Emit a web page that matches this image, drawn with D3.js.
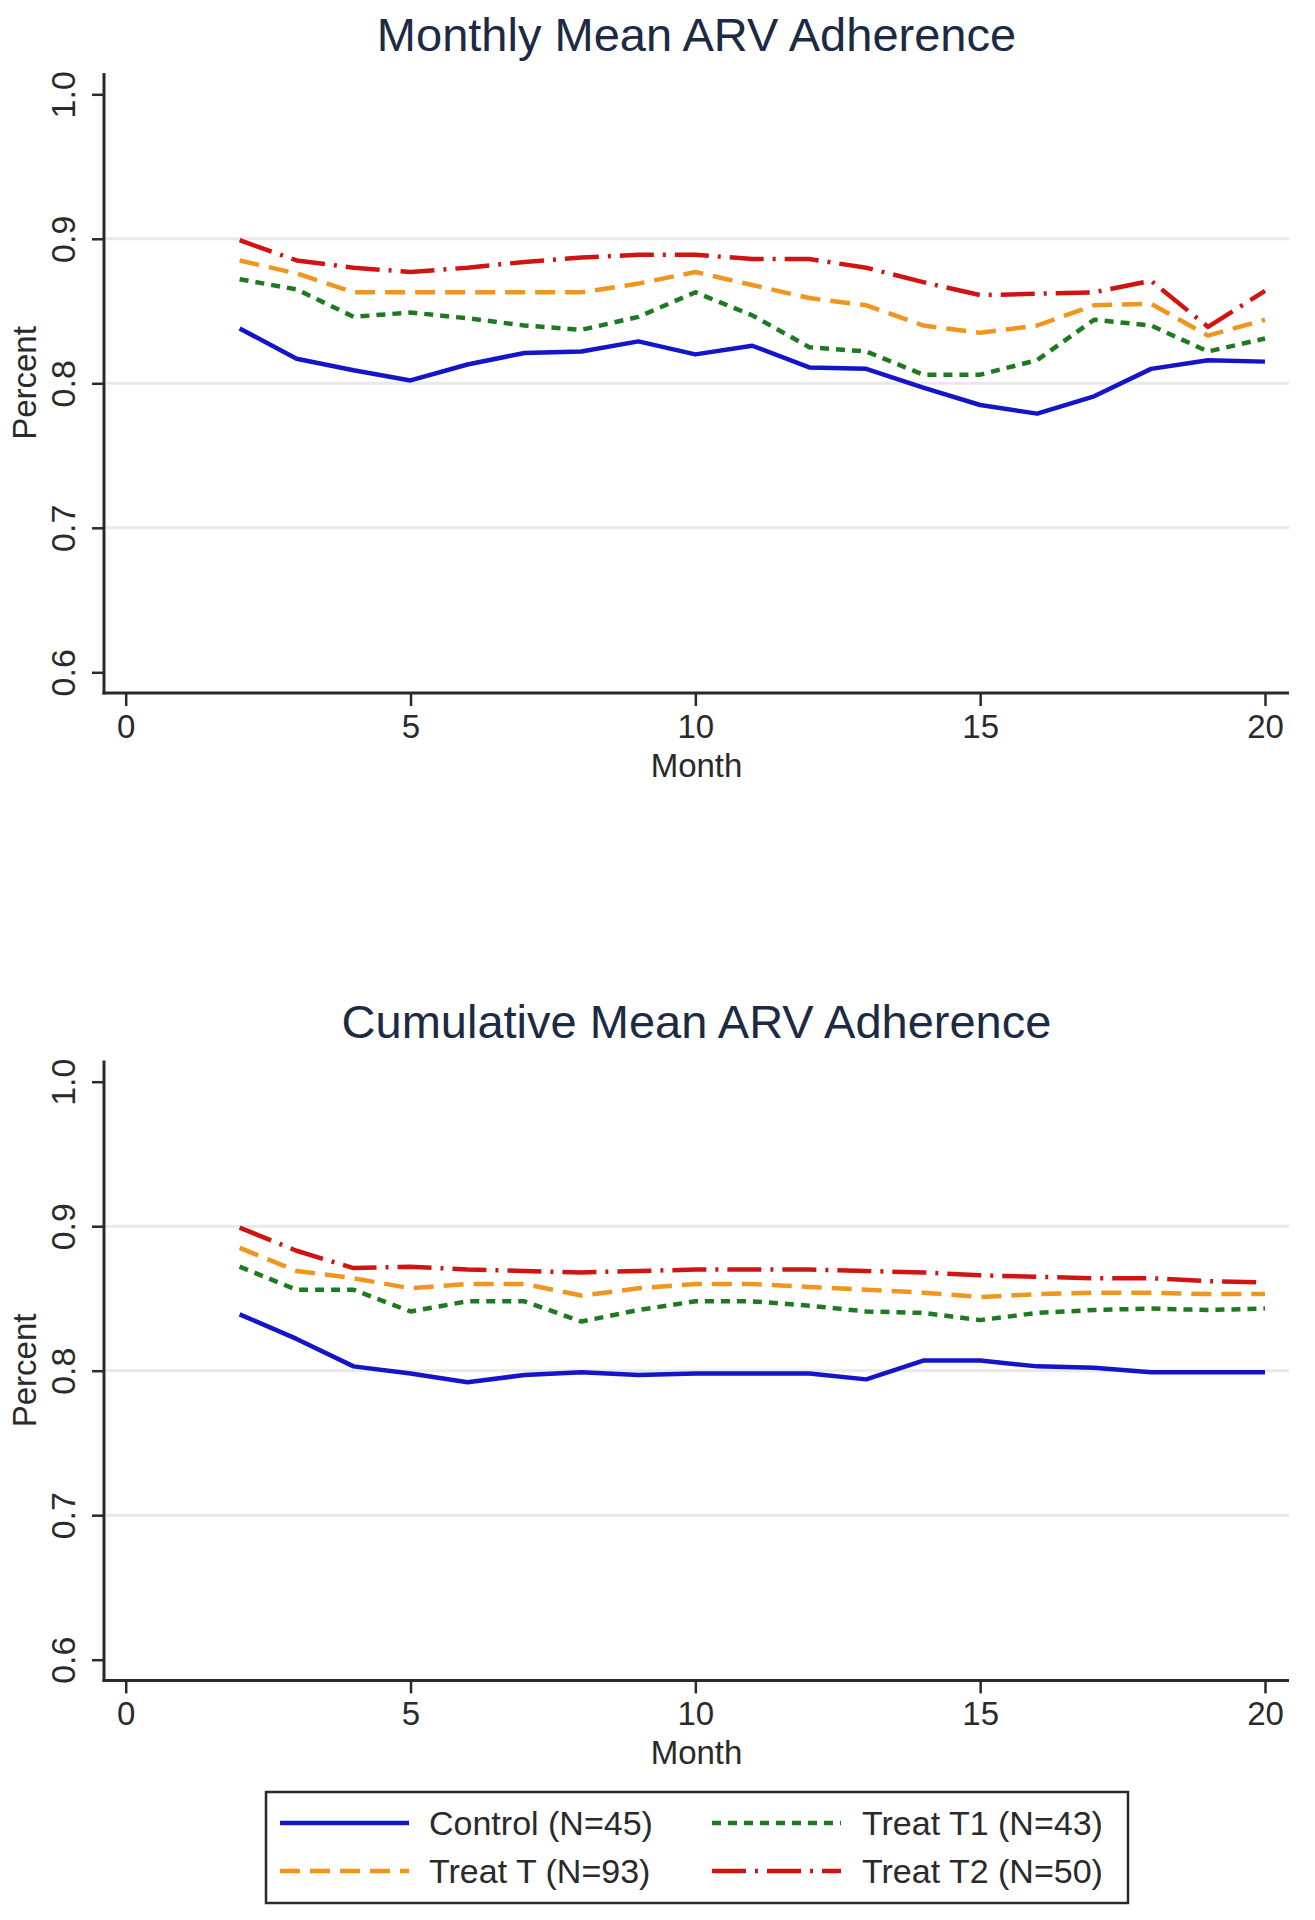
<!DOCTYPE html>
<html>
<head>
<meta charset="utf-8">
<script src="https://cdn.jsdelivr.net/npm/d3@7"></script>
<style>
  html, body { margin: 0; padding: 0; background: #fff; }
  svg { display: block; font-family: "Liberation Sans", Arial, sans-serif; }
</style>
</head>
<body>
<svg id="chart" width="1315" height="1920"></svg>
<script>
// ---- data ----
const months = [2,3,4,5,6,7,8,9,10,11,12,13,14,15,16,17,18,19,20];

const monthlyControl = [0.838,0.817,0.809,0.802,0.813,0.821,0.822,0.829,0.820,0.826,0.811,0.810,0.797,0.785,0.779,0.791,0.810,0.816,0.815];
const monthlyT       = [0.885,0.876,0.863,0.863,0.863,0.863,0.863,0.869,0.877,0.868,0.859,0.854,0.840,0.835,0.840,0.854,0.855,0.833,0.844];
const monthlyT1      = [0.872,0.865,0.846,0.849,0.845,0.840,0.837,0.846,0.863,0.847,0.825,0.822,0.806,0.806,0.816,0.844,0.840,0.822,0.831];
const monthlyT2      = [0.899,0.885,0.880,0.877,0.880,0.884,0.887,0.889,0.889,0.886,0.886,0.880,0.870,0.861,0.862,0.863,0.871,0.839,0.864];

const cumControl = [0.839,0.822,0.803,0.798,0.792,0.797,0.799,0.797,0.798,0.798,0.798,0.794,0.807,0.807,0.803,0.802,0.799,0.799,0.799];
const cumT       = [0.885,0.869,0.864,0.857,0.860,0.860,0.852,0.857,0.860,0.860,0.858,0.856,0.854,0.851,0.853,0.854,0.854,0.853,0.853];
const cumT1      = [0.872,0.856,0.856,0.841,0.848,0.848,0.834,0.842,0.848,0.848,0.845,0.841,0.840,0.835,0.840,0.842,0.843,0.842,0.843];
const cumT2      = [0.899,0.883,0.871,0.872,0.870,0.869,0.868,0.869,0.870,0.870,0.870,0.869,0.868,0.866,0.865,0.864,0.864,0.862,0.861];

const seriesNames = ["Control (N=45)", "Treat T (N=93)", "Treat T1 (N=43)", "Treat T2 (N=50)"];
const xTicks = [0,5,10,15,20];
const yTicks = [0.6,0.7,0.8,0.9,1.0];
const gridTicks = [0.7,0.8,0.9];
const panelTitles = ["Monthly Mean ARV Adherence", "Cumulative Mean ARV Adherence"];

// ---- styles ----
const styles = [
  {color: "#1414c8", dash: null},
  {color: "#f0961e", dash: "20,10"},
  {color: "#1e7a1e", dash: "9,7"},
  {color: "#d01414", dash: "34,9,3,9"}
];

const svg = d3.select("#chart");
const font = "'Liberation Sans', Arial, sans-serif";

function panel(offsetY, title, data) {
  const g = svg.append("g").attr("transform", `translate(0,${offsetY})`);
  const x = d3.scaleLinear().domain([0,20]).range([125.7,1265]);
  const y = d3.scaleLinear().domain([0.6,1.0]).range([672.3,94.3]);
  const plotLeft = 104, plotRight = 1289, plotTop = 73, plotBottom = 693;

  // gridlines
  g.append("g").selectAll("line").data(gridTicks).join("line")
    .attr("x1", plotLeft + 2).attr("x2", plotRight)
    .attr("y1", d => y(d)).attr("y2", d => y(d))
    .attr("stroke", "#e9e9e9").attr("stroke-width", 3);

  // y axis
  const ya = g.append("g").attr("transform", `translate(${plotLeft},0)`)
    .call(d3.axisLeft(y).tickValues(yTicks).tickFormat(d3.format(".1f")).tickSize(12).tickPadding(4));
  ya.select(".domain").remove();
  ya.selectAll(".tick line").attr("stroke", "#2a2a2a").attr("stroke-width", 2.5);
  ya.selectAll(".tick text")
    .attr("transform", "rotate(-90)")
    .attr("x", 0).attr("y", -29).attr("dy", 0)
    .attr("text-anchor", "middle")
    .attr("fill", "#2a2a2a")
    .style("font-size", "34px").style("font-family", font);

  // x axis
  const xa = g.append("g").attr("transform", `translate(0,${plotBottom})`)
    .call(d3.axisBottom(x).tickValues(xTicks).tickFormat(d3.format("d")).tickSize(13).tickPadding(10));
  xa.select(".domain").remove();
  xa.selectAll(".tick line").attr("stroke", "#2a2a2a").attr("stroke-width", 2.5);
  xa.selectAll(".tick text")
    .attr("dy", 0).attr("y", 45)
    .attr("fill", "#2a2a2a")
    .style("font-size", "33px").style("font-family", font);

  // axis lines
  g.append("line").attr("x1", plotLeft).attr("x2", plotLeft).attr("y1", plotTop).attr("y2", plotBottom + 1.5)
    .attr("stroke", "#2a2a2a").attr("stroke-width", 3);
  g.append("line").attr("x1", plotLeft - 1.5).attr("x2", plotRight).attr("y1", plotBottom).attr("y2", plotBottom)
    .attr("stroke", "#2a2a2a").attr("stroke-width", 3);

  // lines
  const line = d3.line().x((d,i) => x(months[i])).y(d => y(d));
  data.forEach((vals, k) => {
    g.append("path").datum(vals)
      .attr("d", line)
      .attr("fill", "none")
      .attr("stroke", styles[k].color)
      .attr("stroke-width", 4.5)
      .attr("stroke-linejoin", "round")
      .attr("stroke-dasharray", styles[k].dash);
  });

  // title
  g.append("text").attr("x", (plotLeft + plotRight) / 2).attr("y", 51)
    .attr("text-anchor", "middle").attr("fill", "#1c2a44")
    .style("font-size", "47px").style("font-family", font)
    .text(title);

  // axis titles
  g.append("text").attr("x", (plotLeft + plotRight) / 2).attr("y", 777)
    .attr("text-anchor", "middle").attr("fill", "#2a2a2a")
    .style("font-size", "33px").style("font-family", font)
    .text("Month");
  g.append("text").attr("transform", `translate(36,${(plotTop + plotBottom) / 2}) rotate(-90)`)
    .attr("text-anchor", "middle").attr("fill", "#2a2a2a")
    .style("font-size", "33px").style("font-family", font)
    .text("Percent");
}

panel(0, panelTitles[0], [monthlyControl, monthlyT, monthlyT1, monthlyT2]);
panel(987.4, panelTitles[1], [cumControl, cumT, cumT1, cumT2]);

// legend
const leg = svg.append("g");
leg.append("rect").attr("x", 266).attr("y", 1792).attr("width", 862).attr("height", 111)
  .attr("fill", "#fff").attr("stroke", "#2a2a2a").attr("stroke-width", 2.5);
const legPos = [
  {sx: 280, tx: 429, cy: 1823},
  {sx: 280, tx: 429, cy: 1871},
  {sx: 712, tx: 862, cy: 1823},
  {sx: 712, tx: 862, cy: 1871}
];
seriesNames.forEach((name, k) => {
  const p = legPos[k];
  leg.append("line").attr("x1", p.sx).attr("x2", p.sx + 129).attr("y1", p.cy).attr("y2", p.cy)
    .attr("stroke", styles[k].color).attr("stroke-width", 4.5).attr("stroke-dasharray", styles[k].dash);
  leg.append("text").attr("x", p.tx).attr("y", p.cy + 12)
    .attr("fill", "#2a2a2a").style("font-size", "34px").style("font-family", font)
    .text(name);
});
</script>
</body>
</html>
